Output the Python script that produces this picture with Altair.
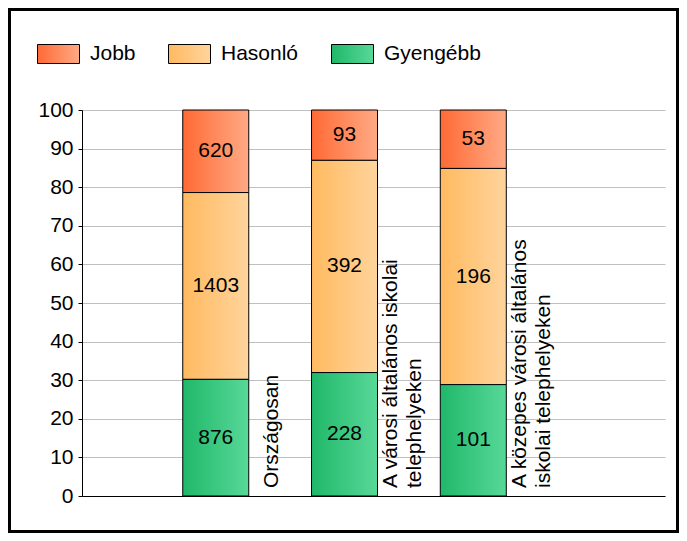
import altair as alt
import pandas as pd

categories = ["Országosan", "A városi általános iskolai telephelyeken", "A közepes városi általános iskolai telephelyeken"]
cat_lines = [["Országosan"], ["A városi általános iskolai", "telephelyeken"], ["A közepes városi általános", "iskolai telephelyeken"]]
cat_pos = [1, 2, 3]
series = ["Jobb", "Hasonló", "Gyengébb"]
stack_order = [3, 2, 1]
jobb = [620, 93, 53]
hasonlo = [1403, 392, 196]
gyengebb = [876, 228, 101]
y_ticks = [0, 10, 20, 30, 40, 50, 60, 70, 80, 90, 100]
grad_left = ["#FF6A35", "#FFBA60", "#20B86A"]
grad_right = ["#FFAA85", "#FFD49C", "#58D898"]

rows = []
for i, c in enumerate(categories):
    for s, o, vals in zip(series, stack_order, [jobb, hasonlo, gyengebb]):
        rows.append({"cat": c, "pos": cat_pos[i], "series": s, "ord": o, "value": vals[i]})
df = pd.DataFrame(rows)
labels_df = pd.DataFrame({"cat": categories, "pos": cat_pos, "lines": cat_lines,
                          "nlines": [len(l) for l in cat_lines]})

FONT = "Liberation Sans"
FS = 21
LH = 24
X_DOMAIN = [0, 4.45]
PLOT_W = 583
PX = (X_DOMAIN[1] - X_DOMAIN[0]) / PLOT_W  # data units per pixel

def grad(l, r):
    return alt.ExprRef(expr="{gradient:'linear',x1:0,y1:0,x2:1,y2:0,stops:[{offset:0,color:'%s'},{offset:1,color:'%s'}]}" % (l, r))

xscale = alt.Scale(domain=X_DOMAIN, nice=False, zero=False)
yscale = alt.Scale(domain=[0, 100], nice=False)
x_axis = alt.Axis(labels=False, ticks=False, title=None, grid=False, domainColor="black", domainWidth=1)
y_axis = alt.Axis(values=y_ticks, title=None, grid=True, gridColor="#c0c0c0",
                  gridWidth=1, domainColor="black", tickColor="black", tickSize=4,
                  labelPadding=5, labelFont=FONT, labelFontSize=FS, labelColor="black",
                  labelOverlap=False, labelFlush=False, labelBound=False)

base = alt.Chart(df).transform_joinaggregate(
    total="sum(value)", groupby=["cat"]
).transform_calculate(
    pct="datum.value / datum.total * 100"
).transform_stack(
    stack="pct", groupby=["cat"], as_=["y0", "y1"], sort=[alt.SortField("ord", order="ascending")]
).transform_calculate(
    ymid="(datum.y0 + datum.y1) / 2"
)

bars = base.mark_bar(size=66, stroke="black", strokeWidth=1).encode(
    x=alt.X("pos:Q", scale=xscale, axis=x_axis),
    y=alt.Y("y0:Q", scale=yscale, axis=y_axis),
    y2="y1:Q",
    fill=alt.Fill("series:N",
                  scale=alt.Scale(domain=series, range=[grad(l, r) for l, r in zip(grad_left, grad_right)]),
                  sort=series,
                  legend=alt.Legend(title=None, orient="none", legendX=-45, legendY=-77.5,
                                    direction="horizontal", columns=3, padding=0,
                                    symbolType="M-1,-0.452H1V0.452H-1Z", symbolSize=1764,
                                    symbolStrokeColor="black", symbolStrokeWidth=1,
                                    labelFont=FONT, labelFontSize=FS, labelColor="black",
                                    labelOffset=10, columnPadding=30)),
)

vals = base.mark_text(font=FONT, fontSize=FS, color="black", align="center", baseline="middle").encode(
    x=alt.X("pos:Q", scale=xscale, axis=x_axis),
    y=alt.Y("ymid:Q", scale=yscale, axis=y_axis),
    text="value:Q",
)

# category labels sit at the band edge, the whole block centred there
catlab = alt.Chart(labels_df).transform_calculate(
    lx="datum.pos + 0.5 - (datum.nlines - 1) * %f" % (10 * PX)
).mark_text(
    font=FONT, fontSize=FS, color="black", angle=270, align="left", baseline="middle",
    lineHeight=LH, dx=8, dy=-8
).encode(
    x=alt.X("lx:Q", scale=xscale, axis=x_axis),
    y=alt.value(386),
    text="lines",
)

frame = alt.Chart(pd.DataFrame({"a": [0]})).mark_rect(
    fill=None, stroke="black", strokeWidth=3
).encode(
    x=alt.value(-72.5), x2=alt.value(595.5), y=alt.value(-100.5), y2=alt.value(421.5)
)

chart = alt.layer(frame, bars, vals, catlab).properties(
    width=583, height=386,
    autosize=alt.AutoSizeParams(type="none"),
    padding={"left": 74, "top": 102, "right": 14, "bottom": 37},
    background="white",
).configure_view(stroke=None)

chart.save("out.html", embed_options={"renderer": "svg", "actions": False})
